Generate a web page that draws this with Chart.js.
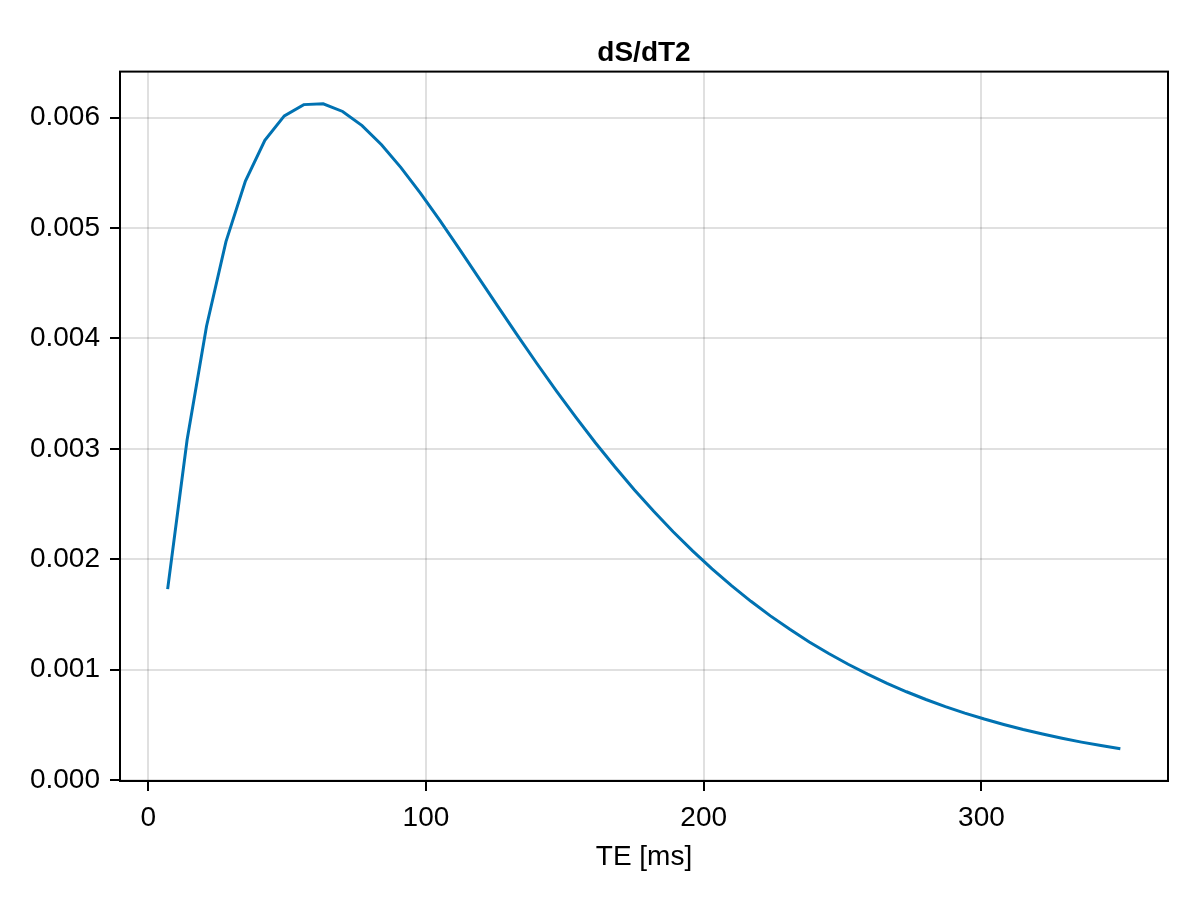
<!DOCTYPE html>
<html>
<head>
<meta charset="utf-8">
<title>dS/dT2</title>
<script src="https://cdn.jsdelivr.net/npm/chart.js@4/dist/chart.umd.min.js"></script>
<style>
  html, body { margin: 0; padding: 0; background: #ffffff; }
  #wrap { width: 1200px; height: 900px; }
</style>
</head>
<body>
<div id="wrap"><canvas id="dsChart" width="1200" height="900"></canvas></div>
<script>
// echo times (ms) and sensitivity values
const teValues = [
  7, 14, 21, 28, 35, 42, 49, 56, 63, 70,
  77, 84, 91, 98, 105, 112, 119, 126, 133, 140,
  147, 154, 161, 168, 175, 182, 189, 196, 203, 210,
  217, 224, 231, 238, 245, 252, 259, 266, 273, 280,
  287, 294, 301, 308, 315, 322, 329, 336, 343, 350
];
const dsdt2Values = [
  0.001730, 0.003080, 0.004111, 0.004877, 0.005425, 0.005794, 0.006015, 0.006117, 0.006124, 0.006055,
  0.005927, 0.005754, 0.005547, 0.005316, 0.005068, 0.004811, 0.004549, 0.004286, 0.004026, 0.003771,
  0.003524, 0.003285, 0.003056, 0.002838, 0.002631, 0.002435, 0.002250, 0.002076, 0.001914, 0.001762,
  0.001620, 0.001488, 0.001366, 0.001252, 0.001147, 0.001050, 0.000960, 0.000877, 0.000801, 0.000731,
  0.000667, 0.000608, 0.000554, 0.000505, 0.000459, 0.000418, 0.000380, 0.000345, 0.000314, 0.000285
];
const xTicks = [0, 100, 200, 300];
const yTicks = [0, 0.001, 0.002, 0.003, 0.004, 0.005, 0.006];

const FONT = "'Liberation Sans', Arial, Helvetica, sans-serif";

// draws the top and right spines so the plot is boxed in
const frameBox = {
  id: "frameBox",
  afterDraw(chart) {
    const { ctx, chartArea: a } = chart;
    ctx.save();
    ctx.strokeStyle = "#000000";
    ctx.lineWidth = 2;
    ctx.strokeRect(a.left, a.top, a.right - a.left, a.bottom - a.top);
    ctx.restore();
  }
};

const ctx = document.getElementById("dsChart").getContext("2d");

new Chart(ctx, {
  type: "line",
  data: {
    datasets: [{
      label: "dS/dT2",
      data: teValues.map((te, i) => ({ x: te, y: dsdt2Values[i] })),
      borderColor: "#0072b2",
      borderWidth: 3,
      pointRadius: 0,
      tension: 0,
      fill: false
    }]
  },
  options: {
    responsive: false,
    animation: false,
    devicePixelRatio: 1,
    layout: { padding: { left: 0, right: 32, top: 0, bottom: 0 } },
    plugins: {
      legend: { display: false },
      tooltip: { enabled: false },
      title: {
        display: true,
        fullSize: false,
        text: "dS/dT2",
        color: "#000000",
        font: { family: FONT, size: 28, weight: "bold", lineHeight: 1.2 },
        padding: { top: 36, bottom: 2 }
      }
    },
    scales: {
      x: {
        type: "linear",
        min: -10.15,
        max: 367.15,
        afterBuildTicks: axis => { axis.ticks = xTicks.map(v => ({ value: v })); },
        afterFit: scale => { scale.height = 119; },
        ticks: {
          color: "#000000",
          padding: 10,
          maxRotation: 0,
          font: { family: FONT, size: 28 },
          callback: v => String(v)
        },
        grid: {
          color: "rgba(0,0,0,0.12)",
          lineWidth: 2,
          drawTicks: true,
          tickLength: 10,
          tickColor: "#000000",
          tickWidth: 2
        },
        border: { display: true, color: "#000000", width: 2 },
        title: {
          display: true,
          text: "TE [ms]",
          color: "#000000",
          font: { family: FONT, size: 28, lineHeight: 1.2 },
          padding: { top: 0, bottom: 26 }
        }
      },
      y: {
        type: "linear",
        min: -0.000007,
        max: 0.006416,
        afterBuildTicks: axis => { axis.ticks = yTicks.map(v => ({ value: v })); },
        afterFit: scale => { scale.width = 120; },
        ticks: {
          color: "#000000",
          padding: 10,
          font: { family: FONT, size: 28 },
          callback: v => Number(v).toFixed(3)
        },
        grid: {
          color: "rgba(0,0,0,0.12)",
          lineWidth: 2,
          drawTicks: true,
          tickLength: 10,
          tickColor: "#000000",
          tickWidth: 2
        },
        border: { display: true, color: "#000000", width: 2 }
      }
    }
  },
  plugins: [frameBox]
});
</script>
</body>
</html>
